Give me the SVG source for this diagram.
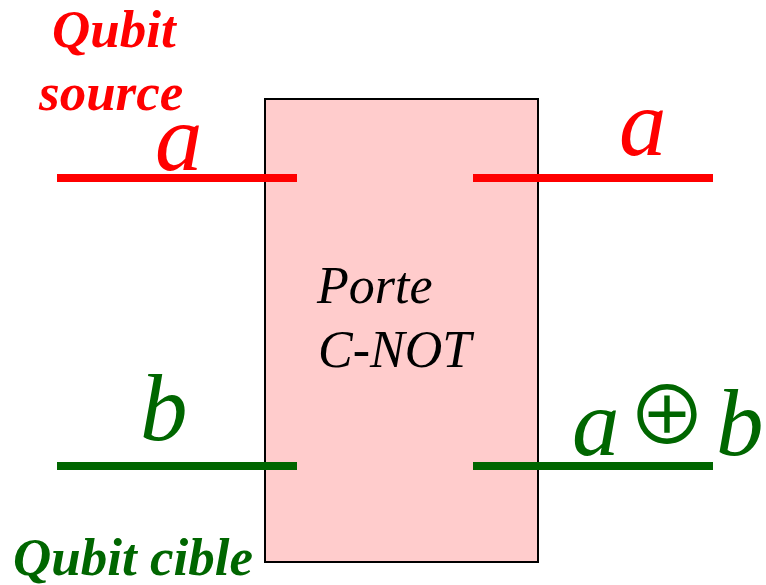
<svg xmlns="http://www.w3.org/2000/svg" width="766" height="585" viewBox="0 0 766 585">
<style>
.lbl{font-family:"Liberation Serif","Times New Roman",serif;font-style:italic}
.b{font-weight:bold}
.red{fill:#FF0000}
.grn{fill:#006600}
.big{font-size:95px}
.wr{stroke:#FF0000;stroke-width:8;fill:none}
.wg{stroke:#006600;stroke-width:8;fill:none}
</style>
<rect width="766" height="585" fill="#FFFFFF"/>
<g id="gate">
<rect x="265" y="99" width="273" height="463" fill="#FFCCCC" stroke="#000000" stroke-width="2"/>
<text class="lbl" x="317" y="303" font-size="52">Porte</text>
<text class="lbl" x="318" y="367" font-size="52">C-NOT</text>
</g>
<g id="connectors">
<line class="wr" x1="57" y1="178" x2="297" y2="178"/>
<line class="wr" x1="473" y1="178" x2="713" y2="178"/>
<line class="wg" x1="57" y1="466" x2="297" y2="466"/>
<line class="wg" x1="473" y1="466" x2="713" y2="466"/>
</g>
<g id="source-label">
<text class="lbl b red" x="52" y="47" font-size="53">Qubit</text>
<text class="lbl b red" x="39" y="110" font-size="53">source</text>
</g>
<g id="in-a"><text class="lbl red big" x="155" y="170">a</text></g>
<g id="out-a"><text class="lbl red big" x="619" y="155">a</text></g>
<g id="in-b"><text class="lbl grn big" x="140" y="440">b</text></g>
<g id="out-ab"><text class="lbl grn big" y="455"><tspan x="572">a</tspan><tspan x="627" y="444" font-family="Noto Sans CJK JP,sans-serif" font-style="normal" font-size="80">⊕</tspan><tspan x="716" y="455">b</tspan></text></g>
<g id="target-label">
<text class="lbl b grn" x="13" y="575" font-size="53">Qubit cible</text>
</g>
</svg>
